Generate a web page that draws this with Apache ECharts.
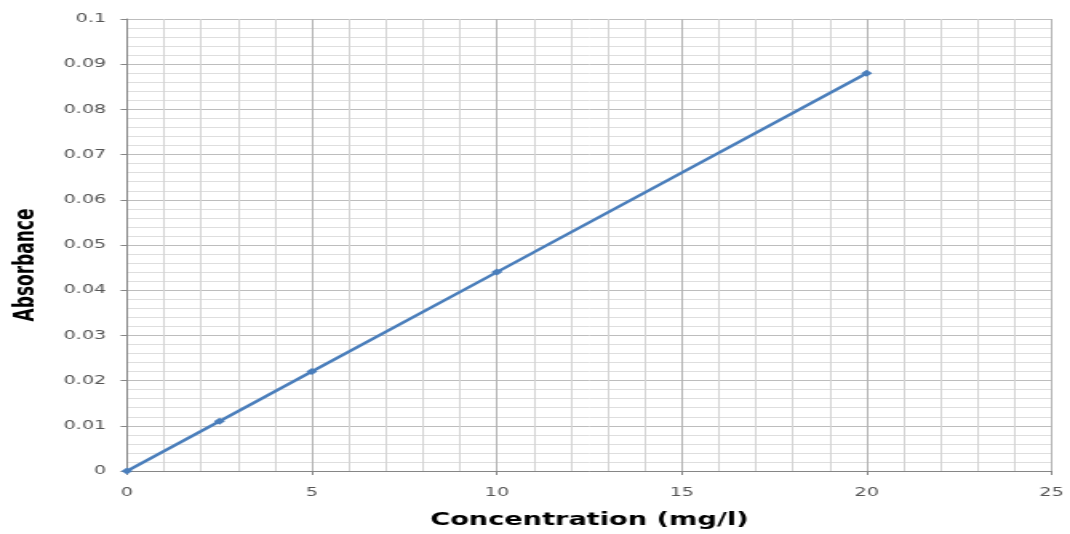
<!DOCTYPE html>
<html>
<head>
<meta charset="utf-8">
<script src="https://cdn.jsdelivr.net/npm/echarts@6/dist/echarts.min.js"></script>
<style>
  html, body { margin: 0; padding: 0; background: #fff; overflow: hidden; }
  #wrap { width: 1070px; height: 534px; overflow: hidden; }
  #chart { width: 669px; height: 534px; transform: scaleX(1.5994); transform-origin: 0 0; }
</style>
</head>
<body>
<div id="wrap"><div id="chart"></div></div>
<script>
// Data
const concentration = [0, 2.5, 5, 10, 20];
const absorbance = [0, 0.011, 0.022, 0.044, 0.088];
const xTitle = 'Concentration (mg/l)';
const yTitle = 'Absorbance';

const points = concentration.map((c, i) => [c, absorbance[i]]);

const chart = echarts.init(document.getElementById('chart'), null, { renderer: 'canvas' });
const labelStyle = { color: '#555555', fontSize: 12, fontFamily: 'DejaVu Sans' };

chart.setOption({
  animation: false,
  backgroundColor: '#ffffff',
  grid: { left: 79.4, right: 11.5, top: 19, bottom: 60, containLabel: false },
  xAxis: {
    type: 'value',
    min: 0, max: 25, interval: 5,
    name: xTitle,
    nameLocation: 'middle',
    nameGap: 41,
    nameTextStyle: { fontFamily: 'DejaVu Sans', fontWeight: 'bold', fontSize: 17, color: '#000' },
    axisLine: { show: true, onZero: false, lineStyle: { color: '#868686', width: 1 } },
    axisTick: { show: true, inside: false, length: 4, lineStyle: { color: '#868686' } },
    axisLabel: Object.assign({ margin: 16 }, labelStyle),
    splitLine: { show: true, lineStyle: { color: '#b3b3b3', width: 1 } },
    minorTick: { show: false, splitNumber: 5 },
    minorSplitLine: { show: true, lineStyle: { color: '#d4d4d4', width: 1 } }
  },
  yAxis: {
    type: 'value',
    min: 0, max: 0.1, interval: 0.01,
    name: yTitle,
    nameLocation: 'middle',
    nameGap: 54,
    nameRotate: 90,
    nameTextStyle: { fontFamily: 'DejaVu Sans', fontWeight: 'bold', fontSize: 17, color: '#000', padding: [0, 40, 0, 0] },
    axisLine: { show: true, lineStyle: { color: '#868686', width: 1 } },
    axisTick: { show: true, inside: false, length: 4, lineStyle: { color: '#868686' } },
    axisLabel: Object.assign({
      margin: 13,
      formatter: v => String(parseFloat(v.toFixed(3)))
    }, labelStyle),
    splitLine: { show: true, lineStyle: { color: '#bdbdbd', width: 1 } },
    minorTick: { show: false, splitNumber: 5 },
    minorSplitLine: { show: true, lineStyle: { color: '#dedede', width: 1 } }
  },
  series: [{
    type: 'line',
    data: points,
    symbol: 'diamond',
    symbolSize: [7, 7],
    showAllSymbol: true,
    lineStyle: { color: '#4a7ebb', width: 2.5 },
    itemStyle: { color: '#4a7ebb' }
  }]
});
</script>
</body>
</html>
